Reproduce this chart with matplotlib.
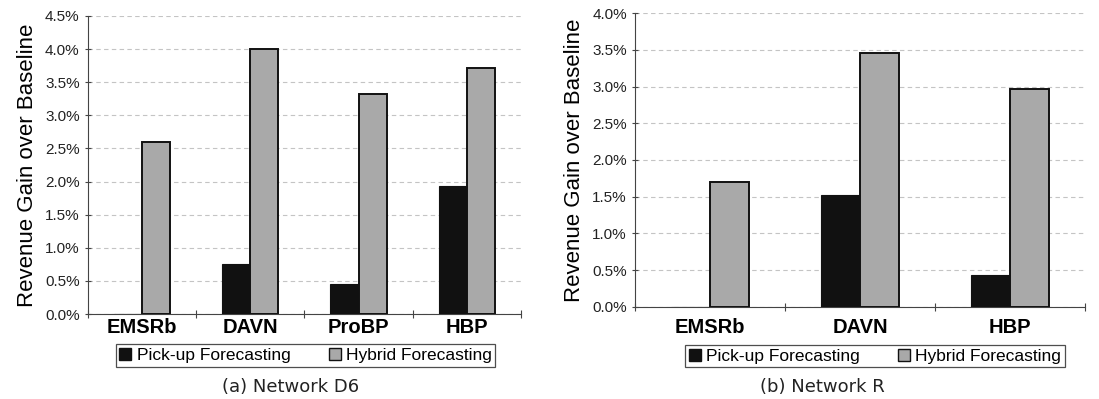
import numpy as np
import matplotlib.pyplot as plt
from matplotlib.ticker import FuncFormatter, MultipleLocator
from matplotlib.patches import Patch

# panel (a) Network D6
cats_a = ["EMSRb", "DAVN", "ProBP", "HBP"]
pickup_a = [0.0, 0.75, 0.45, 1.93]
hybrid_a = [2.60, 4.00, 3.32, 3.72]

# panel (b) Network R
cats_b = ["EMSRb", "DAVN", "HBP"]
pickup_b = [0.0, 1.52, 0.44]
hybrid_b = [1.70, 3.46, 2.97]

series_names = ["Pick-up Forecasting", "Hybrid Forecasting"]
BLACK = "#111111"
GRAY = "#a9a9a9"

plt.rcParams["font.family"] = ["Liberation Sans", "DejaVu Sans"]

fig = plt.figure(figsize=(10.99, 3.99), dpi=100)


def _panel(rect, cats, pickup, hybrid, ymax, label_pad, bar_w):
    ax = fig.add_axes(rect)
    x = np.arange(len(cats))
    ax.bar(x - bar_w / 2, pickup, width=bar_w, color=BLACK, edgecolor=BLACK,
           linewidth=0.8, zorder=3)
    ax.bar(x + bar_w / 2, hybrid, width=bar_w, color=GRAY, edgecolor=BLACK,
           linewidth=1.4, zorder=3)
    ax.set_xlim(-0.5, len(cats) - 0.5)
    ax.set_ylim(0, ymax)
    ax.yaxis.set_major_locator(MultipleLocator(0.5))
    ax.yaxis.set_major_formatter(FuncFormatter(lambda v, p: f"{v:.1f}%"))
    ax.grid(axis="y", color="#c4c4c4", ls=(0, (4, 3)), lw=0.8, zorder=0)
    for s in ("top", "right"):
        ax.spines[s].set_visible(False)
    ax.spines["left"].set_color("#444444")
    ax.spines["bottom"].set_color("#444444")
    # separators between categories, labels centred under groups
    ax.set_xticks(np.arange(len(cats) + 1) - 0.5)
    ax.set_xticklabels([""] * (len(cats) + 1))
    ax.tick_params(axis="x", which="major", direction="inout", length=6,
                   color="#444444")
    ax.set_xticks(x, minor=True)
    ax.set_xticklabels(cats, minor=True, fontsize=14.5, fontweight="bold")
    ax.tick_params(axis="x", which="minor", length=0, pad=label_pad)
    ax.tick_params(axis="y", direction="inout", length=5, labelsize=11,
                   color="#444444", labelcolor="#222222")
    ax.set_ylabel("Revenue Gain over Baseline", fontsize=16, labelpad=5)
    return ax


ax_a = _panel([0.080, 0.213, 0.394, 0.747], cats_a, pickup_a, hybrid_a,
              4.5, 3, 0.26)
ax_b = _panel([0.578, 0.231, 0.409, 0.736], cats_b, pickup_b, hybrid_b,
              4.0, 8, 0.26)

handles = [Patch(facecolor=BLACK, edgecolor=BLACK),
           Patch(facecolor=GRAY, edgecolor=BLACK)]
for cx, cy in [(0.278, 0.109), (0.796, 0.107)]:
    leg = fig.legend(handles, series_names, loc="center",
                     bbox_to_anchor=(cx, cy), ncol=2, fontsize=12.5,
                     frameon=True, fancybox=False, handlelength=0.7,
                     handleheight=0.7, handletextpad=0.3, columnspacing=2.2,
                     borderpad=0.2, borderaxespad=0)
    leg.get_frame().set_edgecolor("#222222")
    leg.get_frame().set_linewidth(0.9)

fig.text(0.264, 0.030, "(a) Network D6", ha="center", va="center",
         fontsize=13, family="DejaVu Sans", color="#222222")
fig.text(0.748, 0.030, "(b) Network R", ha="center", va="center",
         fontsize=13, family="DejaVu Sans", color="#222222")

fig.savefig("out.png", dpi=100)
